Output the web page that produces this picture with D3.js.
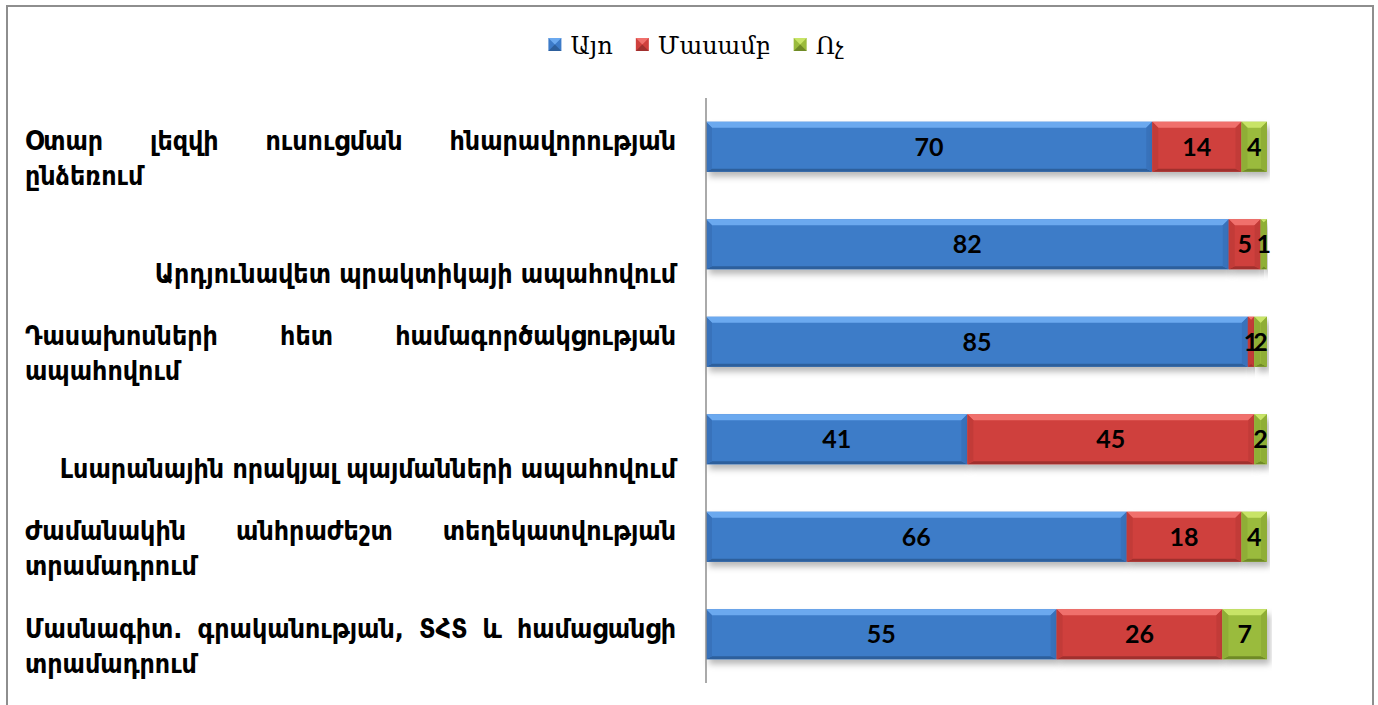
<!DOCTYPE html>
<html><head><meta charset="utf-8">
<script src="https://cdn.jsdelivr.net/npm/d3@7"></script>
<style>html,body{margin:0;padding:0;background:#fff;}svg{display:block;}</style>
</head><body>
<svg id="chart" width="1378" height="705"></svg>
<script>
// ---- data ----
const categories = [
  ["Օտար լեզվի ուսուցման հնարավորության", "ընձեռում"],
  ["", "Արդյունավետ պրակտիկայի ապահովում"],
  ["Դասախոսների հետ համագործակցության", "ապահովում"],
  ["", "Լսարանային որակյալ պայմանների ապահովում"],
  ["Ժամանակին անհրաժեշտ տեղեկատվության", "տրամադրում"],
  ["Մասնագիտ. գրականության, ՏՀՏ և համացանցի", "տրամադրում"]
];
const seriesNames = ["Այո", "Մասամբ", "Ոչ"];
const yesValues = [70, 82, 85, 41, 66, 55];
const partlyValues = [14, 5, 1, 45, 18, 26];
const noValues = [4, 1, 2, 2, 4, 7];
const xMax = 88;

const colors = [
  {main:"#3d7bc8", light:"#6ba9ef", dark:"#2d5f9c", side:"#3872bb"},
  {main:"#cf403d", light:"#f0706c", dark:"#a0302e", side:"#c23b38"},
  {main:"#9abb3c", light:"#c8e467", dark:"#6f8a26", side:"#8fae36"}
];

const svg = d3.select("#chart");
const W = 1378, H = 705;

// frame
svg.append("path").attr("d", `M7,${H} V6 H1373 V${H}`).attr("fill","none")
  .attr("stroke","#8e8e8e").attr("stroke-width",2);

const defs = svg.append("defs");
const f = defs.append("filter").attr("id","shadow").attr("x","-5%").attr("y","-20%").attr("width","115%").attr("height","160%");
f.append("feDropShadow").attr("dx",3).attr("dy",5).attr("stdDeviation",3).attr("flood-color","#000").attr("flood-opacity",0.28);

const x = d3.scaleLinear().domain([0, xMax]).range([706, 1267]);
const y = d3.scaleBand().domain(d3.range(categories.length)).range([98, 683]).paddingInner(0.487).paddingOuter(0.2435);

const rows = categories.map((c, i) => ({i, vals:[yesValues[i], partlyValues[i], noValues[i]]}));
const stack = d3.stack().keys([0,1,2]).value((d,k)=>d.vals[k])(rows);

const bh = y.bandwidth();
const bev = 6;
stack.forEach((layer, k) => {
  const c = colors[k];
  layer.forEach(d => {
    const x0 = x(d[0]), x1 = x(d[1]), y0 = y(d.data.i), y1 = y0 + bh;
    const w = x1 - x0;
    const g = svg.append("g");
    g.append("rect").attr("x",x0).attr("y",y0).attr("width",w).attr("height",bh)
      .attr("fill",c.main).attr("filter","url(#shadow)");
    const b = Math.min(bev, w/2);
    g.append("path").attr("d",`M${x0},${y0} L${x1},${y0} L${x1-b},${y0+b} L${x0+b},${y0+b} Z`).attr("fill",c.light);
    g.append("path").attr("d",`M${x0},${y1} L${x1},${y1} L${x1-b},${y1-3} L${x0+b},${y1-3} Z`).attr("fill",c.dark);
    g.append("path").attr("d",`M${x0},${y0} L${x0+b},${y0+b} L${x0+b},${y1-3} L${x0},${y1} Z`).attr("fill",c.side);
    g.append("path").attr("d",`M${x1},${y0} L${x1-b},${y0+b} L${x1-b},${y1-3} L${x1},${y1} Z`).attr("fill",c.side);
  });
});

// value labels
stack.forEach((layer, k) => {
  layer.forEach(d => {
    svg.append("text").attr("x",(x(d[0])+x(d[1]))/2).attr("y",y(d.data.i)+bh/2)
      .attr("text-anchor","middle").attr("dy","0.36em")
      .attr("font-family","Lato, 'Open Sans', sans-serif").attr("font-weight","bold").attr("font-size",25)
      .attr("fill","#000").text(d.data.vals[k]);
  });
});

// axis
svg.append("line").attr("x1",706).attr("x2",706).attr("y1",98).attr("y2",683).attr("stroke","#8e8e8e").attr("stroke-width",1.5);

// category labels (justified)
const labL = 25, labR = 676;
const labFont = "'DejaVu Sans Condensed', 'DejaVu Sans', sans-serif";
const labSize = 26.5;
categories.forEach((lines, i) => {
  const cy = y(i) + bh/2;
  lines.forEach((line, li) => {
    if (!line) return;
    const ly = cy + (li === 0 ? -6 : 29);
    const isJustified = li === 0;
    const singleLine = lines[0] === "";
    if (isJustified) {
      const words = line.split(" ");
      const ts = words.map(w => svg.append("text").attr("y",ly).attr("dy","0.36em")
        .attr("font-family",labFont).attr("font-weight","bold").attr("font-size",labSize).attr("fill","#000").text(w));
      const widths = ts.map(t => t.node().getComputedTextLength());
      const gap = (labR - labL - d3.sum(widths)) / (words.length - 1);
      let cx = labL;
      ts.forEach((t, j) => { t.attr("x", cx); cx += widths[j] + gap; });
    } else {
      svg.append("text").attr("x", singleLine ? labR : labL).attr("y",ly).attr("dy","0.36em")
        .attr("text-anchor", singleLine ? "end" : "start")
        .attr("font-family",labFont).attr("font-weight","bold").attr("font-size",labSize).attr("fill","#000").text(line);
    }
  });
});

// legend
const lg = svg.append("g");
let lx = 0;
const sw = 13;
seriesNames.forEach((n, k) => {
  const c = colors[k];
  const gg = lg.append("g").attr("transform",`translate(${lx},0)`);
  gg.append("rect").attr("x",0).attr("y",-7).attr("width",sw).attr("height",sw).attr("fill",c.main);
  gg.append("path").attr("d",`M0,-7 L${sw},-7 L${sw/2},${-7+sw/2} Z`).attr("fill",c.light);
  gg.append("path").attr("d",`M0,${-7+sw} L${sw},${-7+sw} L${sw/2},${-7+sw/2} Z`).attr("fill",c.dark);
  const t = gg.append("text").attr("x",sw+9).attr("y",0).attr("dy","0.36em")
    .attr("font-family","'DejaVu Serif', serif").attr("font-size",24).attr("fill","#000").text(n);
  lx += sw + 9 + t.node().getComputedTextLength() + 23;
});
lx -= 23;
lg.attr("transform",`translate(${696 - lx/2},45)`);
</script>
</body></html>
